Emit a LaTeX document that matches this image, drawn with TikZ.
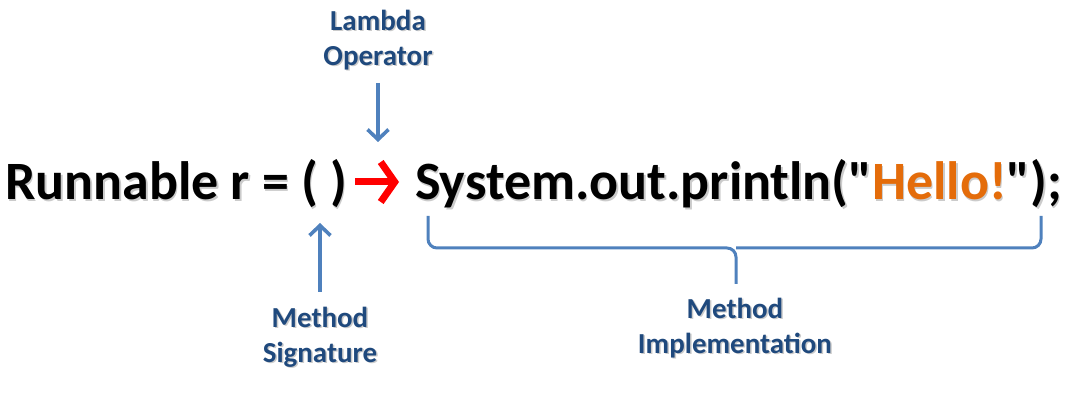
\documentclass[tikz,border=0pt]{standalone}
\usepackage{fontspec}
\setmainfont{Carlito}[Ligatures=TeXOff]
\usetikzlibrary{arrows.meta}
\definecolor{labelblue}{HTML}{1F497D}
\definecolor{linkblue}{HTML}{4F81BD}
\definecolor{hello}{HTML}{E46C0A}
\definecolor{lambdared}{HTML}{FF0000}
\begin{document}
\begin{tikzpicture}[x=1pt,y=-1pt,
  code/.style={inner sep=0pt, font=\fontsize{54}{60}\selectfont\bfseries, text=black},
  note/.style={inner sep=0pt, align=center, text=labelblue,
               font=\fontsize{29}{35}\selectfont\bfseries},
  shade/.style={text=black!45, opacity=0.45},
  pointer/.style={draw=linkblue, line width=3.6pt,
                  -{Straight Barb[length=10pt,width=21pt,line width=3.6pt]}},
  bracket/.style={draw=linkblue, line width=3pt, rounded corners=9pt}]
\useasboundingbox (0,0) rectangle (1090,403);

% code line (with a soft drop shadow)
\node[code, shade, anchor=base west] at (6.5,201.5) {Runnable r = ( )};
\node[code, anchor=base west] (sig) at (5,200) {Runnable r = ( )};
\node[code, shade, anchor=base west] at (416.5,201.5) {System.out.println("Hello!");};
\node[code, anchor=base west] (body) at (415,200)
  {System.out.println("\textcolor{hello}{Hello!}");};

% lambda operator arrow between the two halves
\draw[draw=lambdared, line width=7pt,
      -{Straight Barb[length=14pt,width=40pt,line width=7pt]}]
  (355,182) coordinate (la) -- (399,182) coordinate (lb);

% labels
\node[note, shade] at (379.5,41.5) {Lambda\\Operator};
\node[note] (lop) at (378,40) {Lambda\\Operator};
\node[note, shade] at (321.5,338.5) {Method\\Signature};
\node[note] (msig) at (320,337) {Method\\Signature};
\node[note, shade] at (736.5,329.5) {Method\\Implementation};
\node[note] (mimp) at (735,328) {Method\\Implementation};

% pointers
\coordinate (lt) at (378,142);
\coordinate (st) at (320,223);
\draw[pointer] (378,83) -- (lt);
\draw[pointer] (320,292) -- (st);

% brace under the method body
\coordinate (bl) at (428,216);
\coordinate (br) at (1041,216);
\coordinate (bm) at (736,284);
\draw[bracket] (bl) -- (428,248) -- (736,248) -- (bm);
\draw[bracket] (br) -- (1041,248) -- (736,248);
\end{tikzpicture}
\end{document}
